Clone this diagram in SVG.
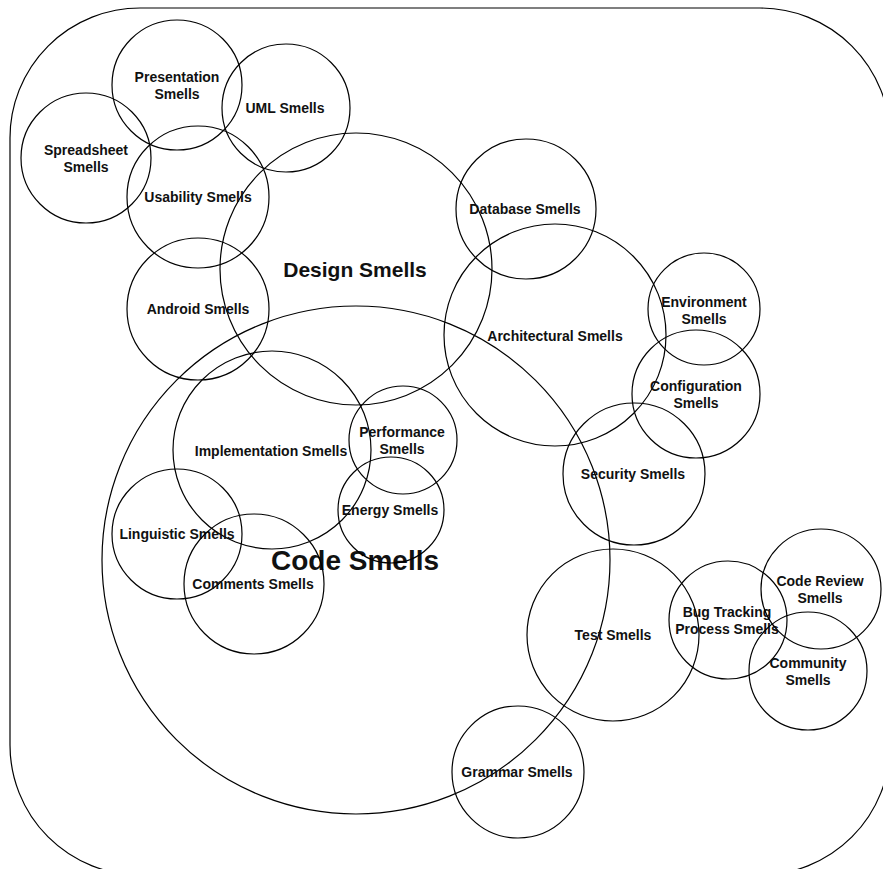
<svg xmlns="http://www.w3.org/2000/svg" width="883" height="869" viewBox="0 0 883 869">
<style>
.c{fill:none;stroke:#000;stroke-width:1.2}
.t{font-family:"Liberation Sans",Arial,sans-serif;font-weight:bold;font-size:14px;fill:#111;text-anchor:middle}
.big{font-size:21px}
.huge{font-size:28px}
</style>
<rect x="0" y="0" width="883" height="869" fill="#fff"/>
<g id="frame"><rect class="c" x="10" y="8" width="880" height="867" rx="130" ry="130"/></g>
<g id="code"><circle class="c" cx="356" cy="560" r="254"/><text class="t huge" x="355" y="570">Code Smells</text></g>
<g id="design"><circle class="c" cx="356" cy="269" r="136"/><text class="t big" x="355" y="277">Design Smells</text></g>
<g id="presentation"><circle class="c" cx="177" cy="85" r="65"/><text class="t" x="177" y="82">Presentation</text><text class="t" x="177" y="99">Smells</text></g>
<g id="uml"><circle class="c" cx="286" cy="108" r="64"/><text class="t" x="285" y="113">UML Smells</text></g>
<g id="spreadsheet"><circle class="c" cx="86" cy="158" r="65"/><text class="t" x="86" y="155">Spreadsheet</text><text class="t" x="86" y="172">Smells</text></g>
<g id="usability"><circle class="c" cx="198" cy="197" r="71"/><text class="t" x="198" y="202">Usability Smells</text></g>
<g id="android"><circle class="c" cx="198" cy="309" r="71"/><text class="t" x="198" y="314">Android Smells</text></g>
<g id="database"><circle class="c" cx="526" cy="209" r="70"/><text class="t" x="525" y="214">Database Smells</text></g>
<g id="architectural"><circle class="c" cx="555" cy="335" r="111"/><text class="t" x="555" y="341">Architectural Smells</text></g>
<g id="environment"><circle class="c" cx="704" cy="309" r="56"/><text class="t" x="704" y="307">Environment</text><text class="t" x="704" y="324">Smells</text></g>
<g id="configuration"><circle class="c" cx="696" cy="394" r="64"/><text class="t" x="696" y="391">Configuration</text><text class="t" x="696" y="408">Smells</text></g>
<g id="security"><circle class="c" cx="634" cy="474" r="71"/><text class="t" x="633" y="479">Security Smells</text></g>
<g id="implementation"><circle class="c" cx="272" cy="450" r="99"/><text class="t" x="271" y="456">Implementation Smells</text></g>
<g id="performance"><circle class="c" cx="403" cy="440" r="54"/><text class="t" x="402" y="437">Performance</text><text class="t" x="402" y="454">Smells</text></g>
<g id="energy"><circle class="c" cx="391" cy="510" r="53"/><text class="t" x="390" y="515">Energy Smells</text></g>
<g id="linguistic"><circle class="c" cx="177" cy="534" r="65"/><text class="t" x="177" y="539">Linguistic Smells</text></g>
<g id="comments"><circle class="c" cx="254" cy="584" r="70"/><text class="t" x="253" y="589">Comments Smells</text></g>
<g id="test"><circle class="c" cx="613" cy="635" r="86"/><text class="t" x="613" y="640">Test Smells</text></g>
<g id="bugtracking"><circle class="c" cx="728" cy="620" r="59"/><text class="t" x="727" y="617">Bug Tracking</text><text class="t" x="727" y="634">Process Smells</text></g>
<g id="codereview"><circle class="c" cx="821" cy="589" r="60"/><text class="t" x="820" y="586">Code Review</text><text class="t" x="820" y="603">Smells</text></g>
<g id="community"><circle class="c" cx="808" cy="671" r="59"/><text class="t" x="808" y="668">Community</text><text class="t" x="808" y="685">Smells</text></g>
<g id="grammar"><circle class="c" cx="518" cy="772" r="66"/><text class="t" x="517" y="777">Grammar Smells</text></g>
<g id="connectors"></g>
</svg>
